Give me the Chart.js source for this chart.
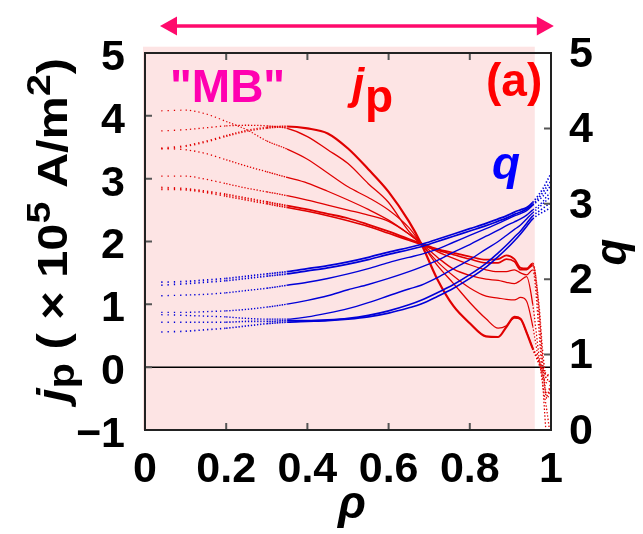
<!DOCTYPE html>
<html>
<head>
<meta charset="utf-8">
<script src="https://cdn.jsdelivr.net/npm/chart.js@4.4.1/dist/chart.umd.min.js"></script>
<style>
  html, body { margin: 0; padding: 0; background: #fff; }
  #wrap { width: 643px; height: 534px; }
</style>
</head>
<body>
<div id="wrap"><canvas id="myChart" width="643" height="534"></canvas></div>
<script>
// radial grid shared by every profile
const rho = [0.04, 0.1, 0.15, 0.2, 0.25, 0.3, 0.35, 0.4, 0.45, 0.5, 0.55, 0.6, 0.65, 0.68,
             0.72, 0.76, 0.8, 0.84, 0.87, 0.89, 0.91, 0.925, 0.94, 0.955, 0.97, 0.98, 0.99, 1.0];

// j_p profiles (x 10^5 A/m^2), left axis
const jpA = [4.08, 4.09, 4.03, 3.91, 3.78, 3.60, 3.47, 3.31, 3.09, 2.87, 2.70, 2.50, 2.22, 1.97,
             1.68, 1.45, 1.26, 1.13, 1.10, 1.08, 1.07, 1.11, 1.05, 0.65, 0.10, -0.15, -0.25, -0.20];
const jpB = [3.76, 3.78, 3.81, 3.84, 3.85, 3.84, 3.80, 3.67, 3.46, 3.24, 2.92, 2.62, 2.16, 1.97,
             1.62, 1.33, 1.03, 0.77, 0.62, 0.66, 0.78, 0.76, 0.55, 0.30, 0.05, -0.10, -0.50, -0.30];
const jpC = [3.48, 3.52, 3.59, 3.68, 3.76, 3.81, 3.83, 3.80, 3.72, 3.48, 3.15, 2.79, 2.32, 1.97,
             1.40, 0.97, 0.70, 0.49, 0.48, 0.64, 0.80, 0.77, 0.55, 0.30, 0.10, -0.05, -0.12, -0.15];
const jpD = [3.48, 3.46, 3.40, 3.30, 3.20, 3.11, 3.02, 2.93, 2.80, 2.66, 2.51, 2.34, 2.12, 1.97,
             1.75, 1.56, 1.46, 1.40, 1.38, 1.35, 1.33, 1.38, 1.44, 1.00, 0.20, -0.30, -0.70, -1.20];
const jpE = [3.04, 3.04, 2.99, 2.92, 2.85, 2.79, 2.73, 2.66, 2.58, 2.50, 2.42, 2.32, 2.12, 1.97,
             1.84, 1.73, 1.63, 1.55, 1.52, 1.52, 1.55, 1.50, 1.47, 1.55, 0.60, -0.30, -1.20, -1.50];
const jpF = [2.86, 2.84, 2.80, 2.75, 2.69, 2.63, 2.57, 2.51, 2.44, 2.37, 2.27, 2.16, 2.04, 1.97,
             1.88, 1.82, 1.76, 1.71, 1.72, 1.78, 1.72, 1.58, 1.57, 1.65, 0.90, 0.00, -0.45, -0.25];
const jpG = [2.83, 2.82, 2.78, 2.72, 2.66, 2.60, 2.54, 2.48, 2.41, 2.33, 2.24, 2.13, 2.02, 1.95,
             1.86, 1.79, 1.72, 1.66, 1.66, 1.72, 1.68, 1.55, 1.55, 1.62, 1.00, 0.20, -0.20, -0.20];

// q profiles, right axis
const q1 = [1.96, 1.97, 1.99, 2.01, 2.04, 2.07, 2.10, 2.14, 2.18, 2.23, 2.29, 2.36, 2.42, 2.46,
            2.53, 2.60, 2.67, 2.74, 2.80, 2.84, 2.89, 2.92, 2.95, 3.02, 3.12, 3.20, 3.30, 3.40];
const q2 = [1.92, 1.94, 1.96, 1.98, 2.01, 2.04, 2.07, 2.11, 2.15, 2.20, 2.26, 2.33, 2.39, 2.43,
            2.50, 2.57, 2.64, 2.71, 2.77, 2.81, 2.86, 2.89, 2.93, 2.99, 3.08, 3.15, 3.23, 3.30];
const q3 = [1.78, 1.79, 1.80, 1.82, 1.85, 1.88, 1.92, 1.96, 2.01, 2.07, 2.14, 2.22, 2.29, 2.33,
            2.40, 2.49, 2.58, 2.67, 2.74, 2.79, 2.84, 2.87, 2.91, 2.98, 3.05, 3.10, 3.17, 3.25];
const q4 = [1.56, 1.56, 1.57, 1.58, 1.60, 1.63, 1.67, 1.72, 1.78, 1.86, 1.93, 2.01, 2.10, 2.16,
            2.25, 2.36, 2.46, 2.57, 2.65, 2.71, 2.76, 2.80, 2.85, 2.92, 2.98, 3.03, 3.10, 3.15];
const q5 = [1.53, 1.52, 1.51, 1.50, 1.48, 1.47, 1.47, 1.50, 1.55, 1.61, 1.69, 1.78, 1.87, 1.92,
            2.02, 2.14, 2.26, 2.40, 2.50, 2.58, 2.66, 2.72, 2.80, 2.88, 2.95, 3.00, 3.05, 3.10];
const q6 = [1.43, 1.43, 1.43, 1.43, 1.44, 1.44, 1.45, 1.45, 1.46, 1.48, 1.52, 1.58, 1.66, 1.72,
            1.82, 1.93, 2.06, 2.21, 2.35, 2.45, 2.56, 2.64, 2.74, 2.84, 2.90, 2.94, 2.98, 3.00];
const q7 = [1.30, 1.31, 1.33, 1.35, 1.38, 1.41, 1.43, 1.44, 1.45, 1.47, 1.50, 1.55, 1.62, 1.67,
            1.77, 1.88, 2.01, 2.16, 2.30, 2.40, 2.51, 2.60, 2.70, 2.80, 2.86, 2.89, 2.92, 2.95];

// tick labels
const xTicks = ['0', '0.2', '0.4', '0.6', '0.8', '1'];
const jpTickLabels = ['\u22121', '0', '1', '2', '3', '4', '5'];
const qTickLabels = ['0', '1', '2', '3', '4', '5'];

const FONT = '"Liberation Sans", Arial, Helvetica, sans-serif';
const RED = '#e00000';
const BLUE = '#0000d8';

// dotted near the axis (sparse grid points) and at the very edge
function dashFor(ctx) {
    const x0 = ctx.p0.parsed.x, x1 = ctx.p1.parsed.x;
    if (x1 <= 0.1) return [1.3, 5];
    if (x1 <= 0.2) return [1.3, 3];
    if (x1 <= 0.3) return [1.3, 1.8];
    if (x1 <= 0.35) return [1.5, 1];
    if (x0 >= 0.955) return [1.4, 2];
    return undefined;
}

function profile(vals, color, width, axis) {
    return {
        data: rho.map((x, i) => ({ x: x, y: vals[i] })),
        borderColor: color,
        borderWidth: width,
        pointRadius: 0,
        cubicInterpolationMode: 'monotone',
        yAxisID: axis,
        segment: { borderDash: dashFor }
    };
}

const datasets = [
    profile(q1, BLUE, 1.7, 'y2'),
    profile(q2, BLUE, 1.7, 'y2'),
    profile(q3, BLUE, 1.4, 'y2'),
    profile(q4, BLUE, 1.4, 'y2'),
    profile(q5, BLUE, 1.4, 'y2'),
    profile(q6, BLUE, 1.6, 'y2'),
    profile(q7, BLUE, 1.6, 'y2'),
    profile(jpC, RED, 2.2, 'y'),
    profile(jpB, RED, 1.3, 'y'),
    profile(jpA, RED, 1.2, 'y'),
    profile(jpD, RED, 1.3, 'y'),
    profile(jpE, RED, 1.3, 'y'),
    profile(jpF, RED, 1.8, 'y'),
    profile(jpG, RED, 1.6, 'y')
];

// pink band, zero line, frame, inward ticks and all annotation text
const decor = {
    id: 'decor',
    beforeDatasetsDraw(chart) {
        const { ctx, chartArea: a, scales } = chart;
        const x = scales.x, y = scales.y;
        ctx.save();
        ctx.fillStyle = '#fde4e4';
        const xl = x.getPixelForValue(-0.005), xr = x.getPixelForValue(0.96);
        const yt = y.getPixelForValue(5.1), yb = y.getPixelForValue(-1);
        ctx.fillRect(xl, yt, xr - xl, yb - yt);
        // zero line
        ctx.strokeStyle = '#000';
        ctx.lineWidth = 1.5;
        const y0 = y.getPixelForValue(0);
        ctx.beginPath();
        ctx.moveTo(a.left, y0);
        ctx.lineTo(a.right, y0);
        ctx.stroke();
        ctx.restore();
    },
    afterDraw(chart) {
        const { ctx, chartArea: a, scales } = chart;
        const x = scales.x, y = scales.y, y2 = scales.y2;
        ctx.save();
        // inward ticks
        ctx.strokeStyle = '#555';
        ctx.lineWidth = 2;
        const L = 7;
        ctx.beginPath();
        x.ticks.forEach(t => {
            const px = x.getPixelForValue(t.value);
            ctx.moveTo(px, a.bottom); ctx.lineTo(px, a.bottom - L);
            ctx.moveTo(px, a.top); ctx.lineTo(px, a.top + L);
        });
        y.ticks.forEach(t => {
            const py = y.getPixelForValue(t.value);
            ctx.moveTo(a.left, py); ctx.lineTo(a.left + L, py);
        });
        y2.ticks.forEach(t => {
            const py = y2.getPixelForValue(t.value);
            ctx.moveTo(a.right, py); ctx.lineTo(a.right - L, py);
        });
        ctx.stroke();
        // frame
        ctx.strokeStyle = '#222';
        ctx.lineWidth = 2;
        ctx.strokeRect(a.left, a.top, a.right - a.left, a.bottom - a.top);

        // double arrow above the plot
        const ay = a.top - 27;
        const ax0 = x.getPixelForValue(0.037), ax1 = x.getPixelForValue(1.007);
        ctx.strokeStyle = '#ff0a6c';
        ctx.fillStyle = '#ff0a6c';
        ctx.lineWidth = 3.5;
        ctx.beginPath();
        ctx.moveTo(ax0 + 10, ay); ctx.lineTo(ax1 - 10, ay);
        ctx.stroke();
        ctx.beginPath();
        ctx.moveTo(ax0, ay); ctx.lineTo(ax0 + 17, ay - 9.5); ctx.lineTo(ax0 + 17, ay + 9.5);
        ctx.closePath(); ctx.fill();
        ctx.beginPath();
        ctx.moveTo(ax1, ay); ctx.lineTo(ax1 - 17, ay - 9.5); ctx.lineTo(ax1 - 17, ay + 9.5);
        ctx.closePath(); ctx.fill();

        // labels in the plot
        ctx.textBaseline = 'alphabetic';
        ctx.textAlign = 'left';
        ctx.fillStyle = '#ff00b0';
        ctx.font = 'bold 46px ' + FONT;
        ctx.fillText('"MB"', 170, 102);

        ctx.fillStyle = '#ff0000';
        ctx.font = 'italic bold 44px ' + FONT;
        ctx.fillText('j', 352, 99);
        ctx.font = 'bold 46px ' + FONT;
        ctx.fillText('p', 365, 112);
        ctx.font = 'bold 46px ' + FONT;
        ctx.fillText('(a)', 486, 96);

        ctx.fillStyle = '#0000ff';
        ctx.font = 'italic bold 46px ' + FONT;
        ctx.fillText('q', 492, 179);

        // axis titles
        ctx.fillStyle = '#000';
        ctx.font = 'italic bold 46px ' + FONT;
        ctx.textAlign = 'center';
        ctx.fillText('\u03c1', 352, 518);

        ctx.save();
        ctx.translate(626, 252);
        ctx.rotate(-Math.PI / 2);
        ctx.font = 'italic bold 44px ' + FONT;
        ctx.fillText('q', 0, 0);
        ctx.restore();

        const runs = [
            { t: 'j', f: 'italic bold 42px', dy: 0 },
            { t: 'p', f: 'bold 36px', dy: 7 },
            { t: ' ( \u00d7 10', f: 'bold 42px', dy: 0 },
            { t: '5', f: 'bold 34px', dy: -17 },
            { t: ' A/m', f: 'bold 42px', dy: 0 },
            { t: '2', f: 'bold 34px', dy: -17 },
            { t: ')', f: 'bold 42px', dy: 0 }
        ];
        let total = 0;
        runs.forEach(r => { ctx.font = r.f + ' ' + FONT; r.w = ctx.measureText(r.t).width; total += r.w; });
        ctx.save();
        ctx.translate(67, 230);
        ctx.rotate(-Math.PI / 2);
        ctx.scale(1.16, 1);
        ctx.textAlign = 'left';
        let cx = -total / 2;
        runs.forEach(r => {
            ctx.font = r.f + ' ' + FONT;
            ctx.fillText(r.t, cx, r.dy);
            cx += r.w;
        });
        ctx.restore();
        ctx.restore();
    }
};

const tickFont = { family: FONT, size: 43, weight: 'bold', lineHeight: 1 };

const chart = new Chart(document.getElementById('myChart').getContext('2d'), {
    type: 'line',
    data: { datasets: datasets },
    options: {
        responsive: false,
        animation: false,
        devicePixelRatio: 1,
        layout: { padding: { top: 53, left: 0, right: 0, bottom: 0 } },
        plugins: { legend: { display: false }, tooltip: { enabled: false } },
        scales: {
            x: {
                type: 'linear', min: 0, max: 1,
                ticks: {
                    stepSize: 0.2, padding: 19, color: '#000', font: tickFont, maxRotation: 0,
                    callback: (v, i) => xTicks[i]
                },
                grid: { display: false, drawTicks: false },
                border: { display: false },
                afterFit: s => { s.height = 104; }
            },
            y: {
                min: -1, max: 5, position: 'left',
                ticks: {
                    stepSize: 1, padding: 20, color: '#000', font: tickFont, labelOffset: 5,
                    callback: (v, i) => jpTickLabels[i]
                },
                grid: { display: false, drawTicks: false },
                border: { display: false },
                afterFit: s => { s.width = 145; }
            },
            y2: {
                min: 0, max: 5, position: 'right',
                ticks: {
                    stepSize: 1, padding: 18, color: '#000', font: tickFont, labelOffset: 2,
                    callback: (v, i) => qTickLabels[i]
                },
                grid: { display: false, drawTicks: false },
                border: { display: false },
                afterFit: s => { s.width = 92; }
            }
        }
    },
    plugins: [decor]
});
</script>
</body>
</html>
